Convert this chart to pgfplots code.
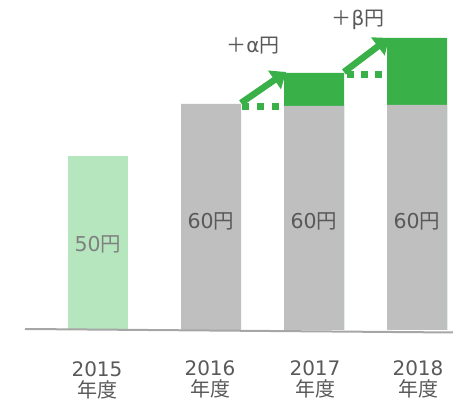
\documentclass[border=0pt]{standalone}
\usepackage{fontspec}
\setmainfont{DejaVu Sans}
\newfontfamily\cjk{Noto Sans CJK JP}
\usepackage{pgfplots}
\pgfplotsset{compat=1.18}
\usetikzlibrary{arrows.meta}
\definecolor{lgreen}{RGB}{181,230,190}
\definecolor{bgray}{RGB}{191,191,191}
\definecolor{dgreen}{RGB}{57,176,72}
\definecolor{txt}{RGB}{89,89,89}
\definecolor{txtl}{RGB}{128,128,128}
\definecolor{base}{RGB}{166,166,166}
\begin{document}
\begin{tikzpicture}
\begin{axis}[
  scale only axis, width=453pt, height=403pt,
  xmin=0, xmax=453, ymin=-73, ymax=330,
  hide axis, clip=false,
]
\addplot[ybar, bar width=60, bar shift=0pt, fill=lgreen, draw=none] coordinates {(98,174)};
\addplot[ybar, bar width=60, bar shift=0pt, fill=dgreen, draw=none] coordinates {(314,257) (417,292)};
\addplot[ybar, bar width=60, bar shift=0pt, fill=bgray, draw=none] coordinates {(211,226) (314,224) (417,225)};
\addplot[sharp plot, base, line width=2pt] coordinates {(25,1) (453,-2.5)};
% dotted steps
\addplot[sharp plot, dgreen, line width=7pt, dash pattern=on 7pt off 8pt] coordinates {(242,223.5) (282,223.5)};
\addplot[sharp plot, dgreen, line width=7pt, dash pattern=on 7pt off 7pt] coordinates {(347,255.5) (384,255.5)};
\draw[dgreen, line width=6.5pt, -{Triangle[length=14pt,width=22pt]}] (axis cs:241,227) -- (axis cs:286,258);
\draw[dgreen, line width=6.5pt, -{Triangle[length=14pt,width=22pt]}] (axis cs:344,258) -- (axis cs:389,292);
% labels
\node[txt, font=\fontsize{20}{22}\selectfont] at (axis cs:253,284) {{\cjk ＋}α{\cjk 円}};
\node[txt, font=\fontsize{20}{22}\selectfont] at (axis cs:358,310) {{\cjk ＋}β{\cjk 円}};
\node[txtl, font=\fontsize{20.5}{22}\selectfont] at (axis cs:98,86) {50{\cjk 円}};
\node[txt, font=\fontsize{20.5}{22}\selectfont] at (axis cs:211,109) {60{\cjk 円}};
\node[txt, font=\fontsize{20.5}{22}\selectfont] at (axis cs:314,109) {60{\cjk 円}};
\node[txt, font=\fontsize{20.5}{22}\selectfont] at (axis cs:417,109) {60{\cjk 円}};
\node[txt, font=\fontsize{20}{21}\selectfont, align=center] at (axis cs:97,-50) {2015\\{\cjk 年度}};
\node[txt, font=\fontsize{20}{21}\selectfont, align=center] at (axis cs:210,-49) {2016\\{\cjk 年度}};
\node[txt, font=\fontsize{20}{21}\selectfont, align=center] at (axis cs:315,-49) {2017\\{\cjk 年度}};
\node[txt, font=\fontsize{20}{21}\selectfont, align=center] at (axis cs:418,-49) {2018\\{\cjk 年度}};
\coordinate (sw) at (axis cs:0,-73);
\coordinate (ne) at (axis cs:453,330);
\end{axis}
\pgfresetboundingbox
\path[use as bounding box] (sw) rectangle (ne);
\end{tikzpicture}
\end{document}
